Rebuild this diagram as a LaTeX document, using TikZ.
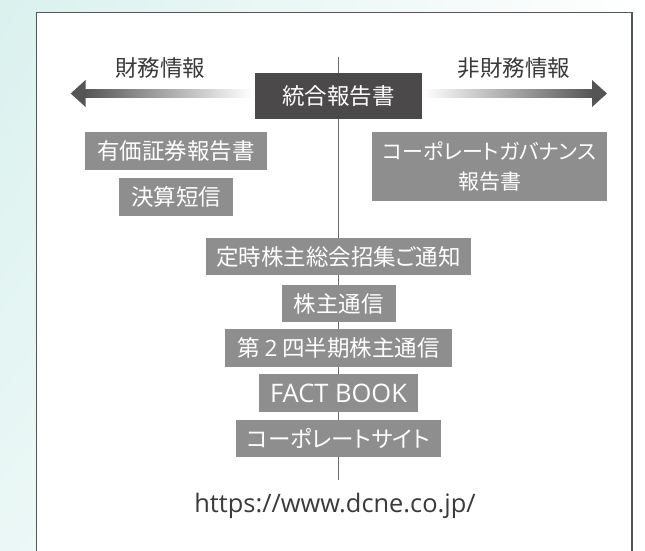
\documentclass[tikz,border=0pt]{standalone}
\usepackage{fontspec}
\usetikzlibrary{shadings}
\setmainfont[RawFeature=+palt]{Noto Sans CJK JP}
\newfontfamily\latinfont{Open Sans}
\definecolor{boxgray}{HTML}{8E8E8E}
\definecolor{titlegray}{HTML}{4B4949}
\definecolor{txtcol}{HTML}{3A3A3A}
\definecolor{arrowdark}{HTML}{555555}
\definecolor{mint}{HTML}{DAF1EE}
\definecolor{framecol}{HTML}{555555}
\definecolor{linegray}{HTML}{6A6A6A}
\tikzset{
  jpfont/.style={font=\fontsize{22.5}{30}\selectfont},
  graybox/.style={jpfont, fill=boxgray, text=white, inner sep=0pt, minimum height=38pt},
  titlebox/.style={jpfont, fill=titlegray, text=white, inner sep=0pt},
  label/.style={jpfont, text=txtcol, inner sep=0pt},
}
\begin{document}
\begin{tikzpicture}[x=1pt,y=-1pt]
\useasboundingbox (0,0) rectangle (645,550);
\clip (0,0) rectangle (645,550);
\shade[upper left=mint, lower left=mint!55!white, upper right=white, lower right=white] (0,0) rectangle (645,550);
\draw[framecol, line width=1.4pt, fill=white] (36.7,12.5) rectangle (632,570);
% centre line
\coordinate (ltop) at (338.5,57);
\coordinate (lbot) at (338.5,480);
\draw[linegray, line width=0.9pt] (ltop) -- (lbot);
% arrows
\shade[left color=arrowdark, right color=white] (84,89.5) rectangle (252,97.5);
\fill[arrowdark] (70.7,93.5) -- (85.5,80) -- (85.5,107) -- cycle;
\shade[left color=white, right color=arrowdark] (423,89.5) rectangle (593,97.5);
\fill[arrowdark] (607,93.5) -- (592,80) -- (592,107) -- cycle;
% labels
\node[label] (fin) at (160,68) {財務情報};
\node[label] (nonfin) at (514,68.5) {非財務情報};
% boxes
\node[titlebox, minimum width=167pt, minimum height=46pt] (title) at (338.5,96) {統合報告書};
\node[graybox, minimum width=182pt] (yuka) at (176,151) {有価証券報告書};
\node[graybox, minimum width=114pt] (kessan) at (176,197) {決算短信};
\node[graybox, minimum width=235pt, minimum height=69pt, align=center, font=\fontsize{21}{30}\selectfont] (cg) at (489.5,166.5) {コーポレートガバナンス\\報告書};
\node[graybox, minimum width=265pt, minimum height=37pt] (teiji) at (338.5,256.5) {定時株主総会招集ご通知};
\node[graybox, minimum width=114pt, minimum height=37pt] (kabu) at (338.5,303.5) {株主通信};
\node[graybox, minimum width=227pt] (dai2) at (338.5,348) {第 {\latinfont 2} 四半期株主通信};
\node[graybox, minimum width=159pt, font=\latinfont\fontsize{25.5}{30}\selectfont] (fact) at (338.5,393) {FACT BOOK};
\node[graybox, minimum width=205pt, minimum height=37pt] (corp) at (338.5,438.5) {コーポレートサイト};
\node[text=txtcol, inner sep=0pt, font=\latinfont\fontsize{25.4}{30}\selectfont] (url) at (335,506) {https://www.dcne.co.jp/};
\end{tikzpicture}
\end{document}
